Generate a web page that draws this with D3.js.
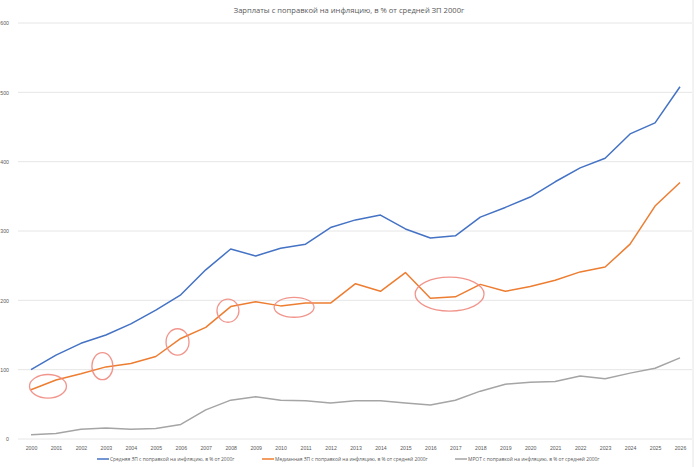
<!DOCTYPE html>
<html>
<head>
<meta charset="utf-8">
<script src="https://cdnjs.cloudflare.com/ajax/libs/d3/7.8.5/d3.min.js"></script>
<style>
  body { margin: 0; background: #fff; }
  svg { font-family: "Open Sans", "DejaVu Sans", sans-serif; }
  .grid line { stroke: #e6e6e6; stroke-width: 1; }
  .tick text { fill: #595959; }
</style>
</head>
<body>
<svg id="chart" width="700" height="467"></svg>
<script>
// годы и ряды
var years = d3.range(2000, 2027);
var avgWage = [100, 121, 138, 150, 166, 186, 208, 244, 274, 264, 275, 281, 305, 316, 323, 303, 290, 293, 320, 334, 349, 371, 391, 405, 440, 456, 508];
var medWage = [71, 85, 94, 104, 109, 119, 145, 161, 191, 198, 192, 196, 196, 224, 213, 240, 203, 205, 223, 213, 220, 229, 241, 248, 281, 336, 370];
var mrot = [6, 8, 14, 16, 14, 15, 21, 42, 56, 61, 56, 55, 52, 55, 55, 52, 49, 56, 69, 79, 82, 83, 91, 87, 95, 102, 117];
var yTicks = [0, 100, 200, 300, 400, 500, 600];

var seriesNames = [
  "Средняя ЗП с поправкой на инфляцию, в % от 2000г",
  "Медианная ЗП с поправкой на инфляцию, в % от средней 2000г",
  "МРОТ с поправкой на инфляцию, в % от средней 2000г"
];
var seriesColors = ["#4472c4", "#ed7d31", "#a5a5a5"];

// красные пометки от руки: центр (год, значение) и полуоси
var markYear = [2000.68, 2002.86, 2005.87, 2007.89, 2010.54, 2016.77];
var markValue = [76, 105, 140, 185, 190, 209];
var markRx = [0.74, 0.42, 0.46, 0.44, 0.8, 1.38];
var markRy = [17, 19.5, 19, 16.6, 14.4, 24.5];

var svg = d3.select("#chart");

var x = d3.scaleLinear().domain([2000, 2026]).range([31, 680]);
var y = d3.scaleLinear().domain([0, 600]).range([439, 23]);

// заголовок
svg.append("text")
  .attr("x", 349)
  .attr("y", 13)
  .attr("text-anchor", "middle")
  .attr("fill", "#595959")
  .style("font-size", "7.6px")
  .text("Зарплаты с поправкой на инфляцию, в % от средней ЗП 2000г");

// сетка
svg.append("g")
  .attr("class", "grid")
  .selectAll("line")
  .data(yTicks)
  .enter().append("line")
  .attr("x1", 18)
  .attr("x2", 692)
  .attr("y1", function(d) { return y(d); })
  .attr("y2", function(d) { return y(d); });

// правая рамка
svg.append("line")
  .attr("x1", 693).attr("x2", 693)
  .attr("y1", 0).attr("y2", 467)
  .attr("stroke", "#e6e6e6");

// ось Y
svg.append("g")
  .attr("transform", "translate(12,0)")
  .call(d3.axisLeft(y).tickValues(yTicks).tickSize(0).tickFormat(d3.format("d")))
  .call(function(g) { g.select(".domain").remove(); })
  .selectAll("text")
  .attr("text-anchor", "end")
  .style("font-size", "5.2px");

// ось X
svg.append("g")
  .attr("transform", "translate(0,443)")
  .call(d3.axisBottom(x).tickValues(years).tickSize(0).tickFormat(d3.format("d")))
  .call(function(g) { g.select(".domain").remove(); })
  .selectAll("text")
  .style("font-size", "5.2px");

var line = d3.line()
  .x(function(d, i) { return x(years[i]); })
  .y(function(d) { return y(d); });

[mrot, medWage, avgWage].forEach(function(s, k) {
  svg.append("path")
    .datum(s)
    .attr("fill", "none")
    .attr("stroke", seriesColors[2 - k])
    .attr("stroke-width", 1.5)
    .attr("stroke-linejoin", "round")
    .attr("d", line);
});

// пометки
svg.append("g")
  .selectAll("ellipse")
  .data(markYear)
  .enter().append("ellipse")
  .attr("cx", function(d) { return x(d); })
  .attr("cy", function(d, i) { return y(markValue[i]); })
  .attr("rx", function(d, i) { return x(2000 + markRx[i]) - x(2000); })
  .attr("ry", function(d, i) { return y(0) - y(markRy[i]); })
  .attr("fill", "none")
  .attr("stroke", "#f08a80")
  .attr("stroke-opacity", 0.9)
  .attr("stroke-width", 1.3);

// легенда
var legendX = [97, 262, 455];
var legend = svg.append("g")
  .selectAll("g")
  .data(seriesNames)
  .enter().append("g")
  .attr("transform", function(d, i) { return "translate(" + legendX[i] + ",459)"; });

legend.append("line")
  .attr("x1", 0).attr("x2", 12)
  .attr("stroke", function(d, i) { return seriesColors[i]; })
  .attr("stroke-width", 1.5);

legend.append("text")
  .attr("x", 13)
  .attr("y", 1.8)
  .attr("fill", "#595959")
  .style("font-size", "4.9px")
  .text(function(d) { return d; });
</script>
</body>
</html>
